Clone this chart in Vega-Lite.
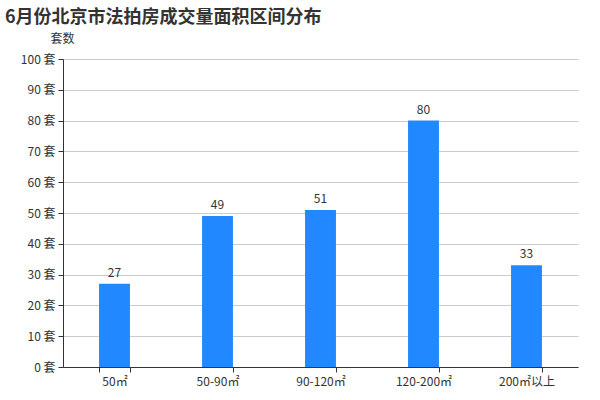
{
  "$schema": "https://vega.github.io/schema/vega-lite/v6.json",
  "width": 515,
  "height": 308,
  "autosize": "none",
  "padding": {"left": 63, "top": 59, "right": 22, "bottom": 33},
  "background": "white",
  "config": {
    "font": "Noto Sans CJK SC",
    "view": {"stroke": null}
  },
  "title": {
    "text": "6月份北京市法拍房成交量面积区间分布",
    "anchor": "start",
    "frame": "group",
    "dx": -58,
    "offset": 5,
    "fontSize": 18,
    "fontWeight": "bold",
    "color": "#333333"
  },
  "data": {
    "values": [
      {"area": "50㎡", "count": 27},
      {"area": "50-90㎡", "count": 49},
      {"area": "90-120㎡", "count": 51},
      {"area": "120-200㎡", "count": 80},
      {"area": "200㎡以上", "count": 33}
    ]
  },
  "encoding": {
    "x": {
      "field": "area",
      "type": "nominal",
      "sort": null,
      "scale": {"paddingInner": 0.7, "paddingOuter": 0.35},
      "axis": {
        "title": null,
        "labelAngle": 0,
        "labelFontSize": 12,
        "labelColor": "#333333",
        "labelPadding": 4,
        "domainColor": "#333333",
        "tickColor": "#333333",
        "tickBand": "extent",
        "tickSize": 5,
        "grid": false
      }
    },
    "y": {
      "field": "count",
      "type": "quantitative",
      "scale": {"domain": [0, 100], "nice": false},
      "axis": {
        "values": [0, 10, 20, 30, 40, 50, 60, 70, 80, 90, 100],
        "labelExpr": "datum.value + ' 套'",
        "labelFontSize": 12,
        "labelColor": "#333333",
        "labelPadding": 3,
        "domainColor": "#333333",
        "tickColor": "#333333",
        "tickSize": 5,
        "gridColor": "#cccccc",
        "title": "套数",
        "titleAngle": 0,
        "titleAlign": "center",
        "titleBaseline": "middle",
        "titleX": -1,
        "titleY": -21,
        "titleFontSize": 12,
        "titleFontWeight": "normal",
        "titleColor": "#333333"
      }
    }
  },
  "layer": [
    {"mark": {"type": "bar", "color": "#2288ff"}, "encoding": {"y": {"field": "count", "type": "quantitative"}}},
    {
      "mark": {"type": "text", "dy": -11, "fontSize": 12, "color": "#333333"},
      "encoding": {"text": {"field": "count", "type": "quantitative"}}
    }
  ]
}
